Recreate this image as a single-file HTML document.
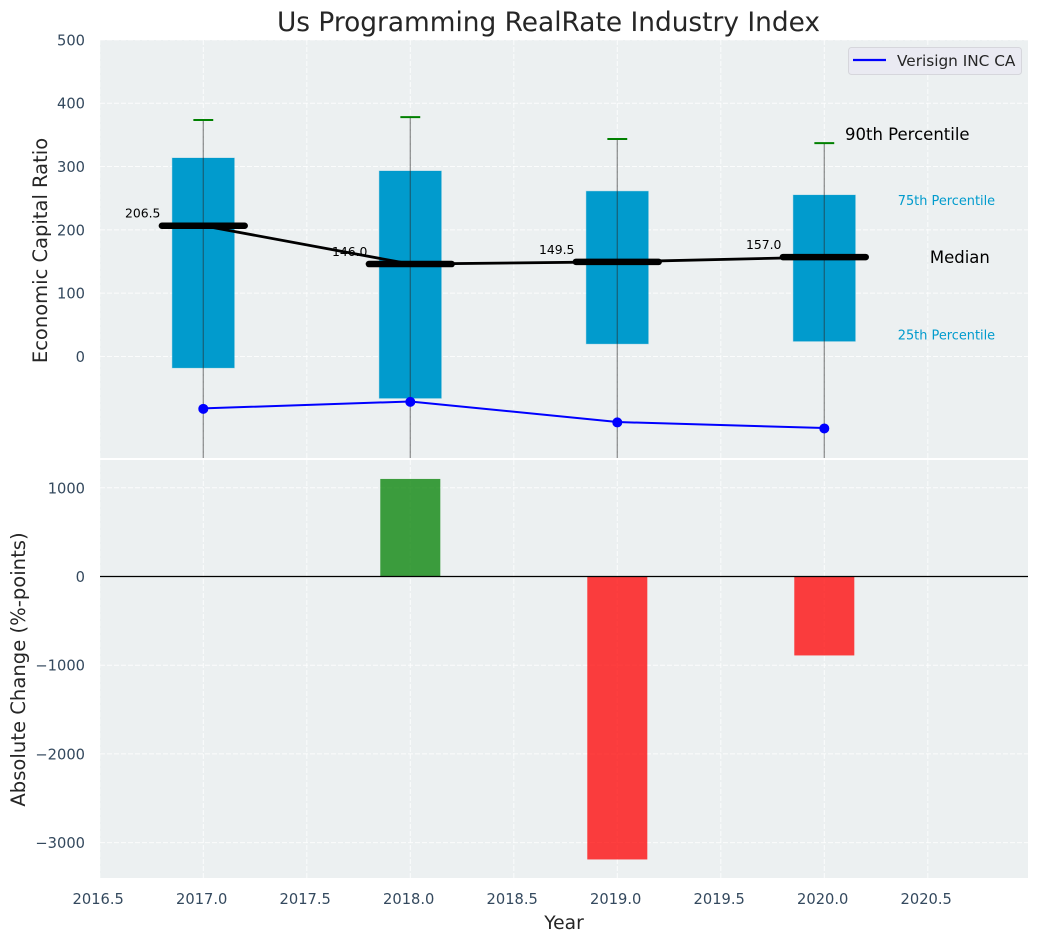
<!DOCTYPE html>
<html lang="en">
<head>
<meta charset="utf-8">
<title>Us Programming RealRate Industry Index</title>
<style>
html,body{margin:0;padding:0;background:#fff;width:1039px;height:942px;overflow:hidden}
svg{display:block;font-family:"DejaVu Sans","Liberation Sans",sans-serif}
</style>
</head>
<body>
<svg id="chart" xmlns="http://www.w3.org/2000/svg" width="1039" height="942" viewBox="0 0 1039 942">
<defs>
<clipPath id="clip-top"><rect x="100" y="40" width="928" height="418"/></clipPath>
<clipPath id="clip-bottom"><rect x="100" y="460" width="928" height="418"/></clipPath>
</defs>
<rect x="100" y="40" width="928" height="418" fill="#ecf0f1"/>
<rect x="100" y="460" width="928" height="418" fill="#ecf0f1"/>
<g id="grid"></g>
<g id="top-marks" clip-path="url(#clip-top)"></g>
<g id="bottom-marks" clip-path="url(#clip-bottom)"></g>
<g id="labels"></g>
<text x="548.5" y="31" text-anchor="middle" font-size="26.4" fill="#262626">Us Programming RealRate Industry Index</text>
<text transform="translate(47 250.5) rotate(-90)" text-anchor="middle" font-size="19.5" fill="#262626">Economic Capital Ratio</text>
<text transform="translate(25 669.5) rotate(-90)" text-anchor="middle" font-size="19.6" fill="#262626">Absolute Change (%-points)</text>
<text x="564" y="929" text-anchor="middle" font-size="18.67" fill="#262626">Year</text>
<g>
<rect x="848.5" y="47.5" width="173" height="27" rx="3" fill="#eaeaf2" stroke="#d6d6dc" stroke-width="1"/>
<line x1="853" y1="60" x2="886" y2="60" stroke="#0000ff" stroke-width="2.2"/>
<text x="897" y="66" font-size="15.3" fill="#262626">Verisign INC CA</text>
</g>
</svg>
<script>
const years = [2017, 2018, 2019, 2020];
const p90 = [373.5, 378, 343.5, 337];
const p75 = [313.5, 293, 261, 255];
const p50 = [206.5, 146.0, 149.5, 157.0];
const p25 = [-18, -66, 20, 24];
const p10 = [-260, -280, -240, -230];
const companyValues = [-82, -71, -103.5, -113];
const changeValues = [1100, -3190, -890];
const changeYears = [2018, 2019, 2020];
const xTicks = [2016.5, 2017, 2017.5, 2018, 2018.5, 2019, 2019.5, 2020, 2020.5];
const yTicksTop = [0, 100, 200, 300, 400, 500];
const yTicksBottom = [-3000, -2000, -1000, 0, 1000];

const NS = 'http://www.w3.org/2000/svg';
const x = v => 203.3 + (v - 2017) * 207;
const yTop = v => 356.5 - v * 0.6332;
const yBottom = v => 576.5 - v * 0.0887;
const BOX_HALF = 0.15, BAR_HALF = 0.145, CAP_HALF = 0.048, MEDIAN_HALF = 0.2;

function make(tag, parent, attrs) {
  const el = document.createElementNS(NS, tag);
  for (const k in attrs) el.setAttribute(k, attrs[k]);
  parent.appendChild(el);
  return el;
}
const grid = document.getElementById('grid');
const topMarks = document.getElementById('top-marks');
const bottomMarks = document.getElementById('bottom-marks');
const labels = document.getElementById('labels');
const TICK = '#34495e';

xTicks.forEach(t => {
  [[40, 458], [460, 878]].forEach(r => {
    const g = make('line', grid, {x1: x(t), x2: x(t), y1: r[0], y2: r[1], stroke: '#fff', 'stroke-width': 1, 'stroke-dasharray': '5 2', opacity: 0.8});
    
    
  });
  const l = make('text', labels, {x: x(t) - 1.6, y: 904, 'text-anchor': 'middle', 'font-size': 14.67, fill: TICK});
  l.textContent = t.toFixed(1);
  
  
});
yTicksTop.forEach(t => {
  const g = make('line', grid, {x1: 100, x2: 1028, y1: yTop(t), y2: yTop(t), stroke: '#fff', 'stroke-width': 1, 'stroke-dasharray': '5 2', opacity: 0.8});
  
  
  const l = make('text', labels, {x: 85, y: yTop(t) + 5.5, 'text-anchor': 'end', 'font-size': 14.67, fill: TICK});
  l.textContent = t;
  
  
});
yTicksBottom.forEach(t => {
  const g = make('line', grid, {x1: 100, x2: 1028, y1: yBottom(t), y2: yBottom(t), stroke: '#fff', 'stroke-width': 1, 'stroke-dasharray': '5 2', opacity: 0.8});
  
  
  const l = make('text', labels, {x: 85, y: yBottom(t) + 5.5, 'text-anchor': 'end', 'font-size': 14.67, fill: TICK});
  l.textContent = String(t).replace('-', '\u2212');
  
  
});

years.forEach((yr, i) => {
  const box = make('rect', topMarks, {x: x(yr - BOX_HALF), width: x(yr + BOX_HALF) - x(yr - BOX_HALF), y: yTop(p75[i]), height: yTop(p25[i]) - yTop(p75[i]), fill: '#019bcd', stroke: '#019bcd', 'stroke-opacity': 0.25});
  
  
  const whisker = make('line', topMarks, {x1: x(yr), x2: x(yr), y1: yTop(p90[i]), y2: yTop(p10[i]), stroke: '#2b2b2b', 'stroke-opacity': 0.5, 'stroke-width': 1.3});
  
  
  const cap = make('line', topMarks, {x1: x(yr - CAP_HALF), x2: x(yr + CAP_HALF), y1: yTop(p90[i]), y2: yTop(p90[i]), stroke: '#008000', 'stroke-width': 2});
  
  
});

const medianTrend = make('polyline', topMarks, {points: years.map((yr, i) => x(yr) + ',' + yTop(p50[i])).join(' '), fill: 'none', stroke: '#000', 'stroke-width': 2.8});



years.forEach((yr, i) => {
  const t = make('text', topMarks, {x: x(yr - 0.207), y: yTop(p50[i]) - 8, 'text-anchor': 'end', 'font-size': 12.4, fill: '#000'});
  t.textContent = p50[i].toFixed(1);
  
  
  const m = make('line', topMarks, {x1: x(yr - MEDIAN_HALF), x2: x(yr + MEDIAN_HALF), y1: yTop(p50[i]), y2: yTop(p50[i]), stroke: '#000', 'stroke-width': 6.5, 'stroke-linecap': 'round'});
  
  
});

const company = make('polyline', topMarks, {points: years.map((yr, i) => x(yr) + ',' + yTop(companyValues[i])).join(' '), fill: 'none', stroke: '#0000ff', 'stroke-width': 2});


years.forEach((yr, i) => {
  const pt = make('circle', topMarks, {cx: x(yr), cy: yTop(companyValues[i]) + 0.4, r: 5, fill: '#0000ff'});
  
  
});

const last = years.length - 1;
const a90 = make('text', topMarks, {x: x(years[last] + 0.1), y: yTop(p90[last] + 14) + 6, 'font-size': 16.5, fill: '#000'});
a90.textContent = '90th Percentile';


const a75 = make('text', topMarks, {x: x(years[last] + 0.355), y: yTop(p75[last] - 9) + 4.5, 'font-size': 12.9, fill: '#019bcd'});
a75.textContent = '75th Percentile';


const aMed = make('text', topMarks, {x: x(years[last] + 0.51), y: yTop(p50[last]) + 6, 'font-size': 16.5, fill: '#000'});
aMed.textContent = 'Median';


const a25 = make('text', topMarks, {x: x(years[last] + 0.355), y: yTop(p25[last] + 10) + 4.5, 'font-size': 12.9, fill: '#019bcd'});
a25.textContent = '25th Percentile';



changeYears.forEach((yr, i) => {
  const v = changeValues[i];
  const y0 = yBottom(Math.max(v, 0));
  const y1 = yBottom(Math.min(v, 0));
  const bar = make('rect', bottomMarks, {x: x(yr - BAR_HALF), width: x(yr + BAR_HALF) - x(yr - BAR_HALF), y: y0, height: y1 - y0, fill: v >= 0 ? '#008000' : '#ff0000', 'fill-opacity': 0.75});
  
  
});
const zero = make('line', bottomMarks, {x1: 100, x2: 1028, y1: yBottom(0), y2: yBottom(0), stroke: '#000', 'stroke-width': 1.3});


</script>
</body>
</html>
